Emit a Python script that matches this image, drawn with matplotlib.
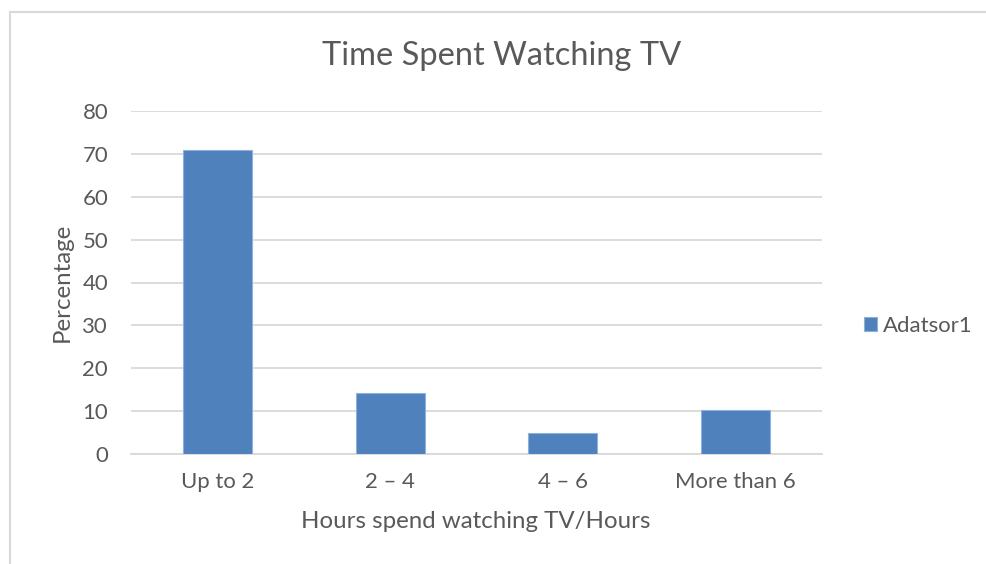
import matplotlib.pyplot as plt
from matplotlib.lines import Line2D

# Data
categories = ['Up to 2', '2 – 4', '4 – 6', 'More than 6']
percentages = [71, 14.2, 4.8, 10.2]
series_name = 'Adatsor1'
y_ticks = [0, 10, 20, 30, 40, 50, 60, 70, 80]

text_color = '#595959'
grid_color = '#D9D9D9'
bar_color = '#4F81BD'

plt.rcParams['font.family'] = ['Lato', 'DejaVu Sans']

W, H = 986, 564
fig = plt.figure(figsize=(W / 100, H / 100), dpi=100)

# outer chart border (top and left visible in the crop)
fig.add_artist(Line2D([10 / W, 10 / W], [0, 1 - 12 / H], transform=fig.transFigure,
                      color=grid_color, lw=1.5))
fig.add_artist(Line2D([10 / W, 1], [1 - 12 / H, 1 - 12 / H], transform=fig.transFigure,
                      color=grid_color, lw=1.5))

ax = fig.add_axes([131 / W, 1 - 454 / H, (822 - 131) / W, (454 - 111) / H])

x = range(len(categories))
ax.bar(x, percentages, width=0.4, color=bar_color, edgecolor='#8FB0DA', linewidth=0.8,
       label=series_name, zorder=3)

ax.set_xlim(-0.5, len(categories) - 0.5)
ax.set_ylim(0, 80)
ax.set_yticks(y_ticks)
ax.set_xticks(list(x))
ax.set_xticklabels(categories)
ax.tick_params(axis='both', length=0, colors=text_color, labelsize=15.9)
ax.tick_params(axis='y', pad=16.5)
ax.tick_params(axis='x', pad=13)
ax.grid(axis='y', color=grid_color, linewidth=1.3, zorder=0)
for s in ['top', 'right', 'left']:
    ax.spines[s].set_visible(False)
ax.spines['bottom'].set_color(grid_color)
ax.spines['bottom'].set_linewidth(1.3)

fig.text(502 / W, 1 - 56 / H, 'Time Spent Watching TV', ha='center', va='center',
         fontsize=23.5, color=text_color)
fig.text(62 / W, 1 - 282 / H, 'Percentage', ha='center', va='center', rotation=90,
         fontsize=17.3, color=text_color)
fig.text(476 / W, 1 - 522 / H, 'Hours spend watching TV/Hours', ha='center', va='center',
         fontsize=17.3, color=text_color)

ax.legend(loc='center left', bbox_to_anchor=(864 / W, 1 - 326 / H),
          bbox_transform=fig.transFigure, frameon=False, fontsize=15.9,
          borderpad=0, borderaxespad=0,
          handlelength=0.6, handleheight=0.6, handletextpad=0.25, labelcolor=text_color)

plt.savefig('out.png', dpi=100)
